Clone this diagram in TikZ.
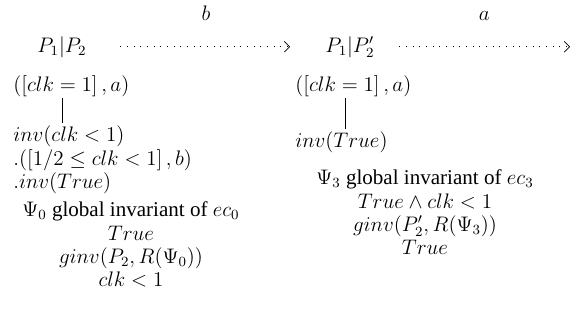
\documentclass[tikz,border=0pt]{standalone}
\usepackage[no-math]{fontspec}
\setmainfont{Liberation Serif}
\usetikzlibrary{arrows.meta, positioning}

\begin{document}
\begin{tikzpicture}[
  x=0.57pt, y=-0.57pt,
  every node/.style={font=\fontsize{12}{14}\selectfont},
  state/.style={inner sep=0pt, anchor=base},
  txt/.style={inner sep=0pt, anchor=base west},
  ginvline/.style={inner sep=0pt, anchor=base},
  lbl/.style={inner sep=0pt, above=14.5pt},
  trans/.style={dash pattern=on 0.4pt off 3.4pt,
                -{Straight Barb[length=3pt, width=6pt]}},
  link/.style={line width=0.4pt, shorten <=1pt, shorten >=1pt}
]
  \useasboundingbox (0,0) rectangle (578,327);

  % Configurations
  \node[state] (conf0) at (62,52) {$P_1|P_2$};
  \node[state] (conf1) at (350,52) {$P_1|P_2'$};
  \coordinate (conf2) at (570,45);

  % Transitions
  \draw[trans, shorten <=19pt, shorten >=20pt]
    (conf0.east) -- node[lbl] {$b$} (conf0.east -| conf1.west);
  \draw[trans, shorten <=14pt]
    (conf1.east) -- node[lbl, pos=0.56] {$a$} (conf1.east -| conf2);

  % Left branch
  \node[txt] (act0) at (13,91) {$([clk=1]\,,a)$};
  \node[txt] (inv0) at (13,141) {$inv(clk<1)$};
  \node[txt] (act1) at (13,165) {$.([1/2\le clk<1]\,,b)$};
  \node[txt] (inv1) at (13,188) {$.inv(True)$};
  \coordinate (stem0) at ([xshift=28pt]act0.south west);
  \draw[link] (stem0) -- (stem0 |- inv0.north);

  \node[ginvline] (psi0) at (131,216) {$\Psi_0$ global invariant of $ec_0$};
  \node[ginvline] (psi0a) at (131,240) {$True$};
  \node[ginvline] (psi0b) at (131,263) {$ginv(P_2,R(\Psi_0))$};
  \node[ginvline] (psi0c) at (131,286) {$clk<1$};

  % Right branch
  \node[txt] (act2) at (295,91) {$([clk=1]\,,a)$};
  \node[txt] (inv2) at (295,147) {$inv(True)$};
  \coordinate (stem1) at ([xshift=28.5pt]act2.south west);
  \draw[link] (stem1) -- (stem1 |- inv2.north);

  \node[ginvline] (psi3) at (425,184) {$\Psi_3$ global invariant of $ec_3$};
  \node[ginvline] (psi3a) at (425,208) {$True\wedge clk<1$};
  \node[ginvline] (psi3b) at (425,231) {$ginv(P_2',R(\Psi_3))$};
  \node[ginvline] (psi3c) at (425,254) {$True$};
\end{tikzpicture}
\end{document}
